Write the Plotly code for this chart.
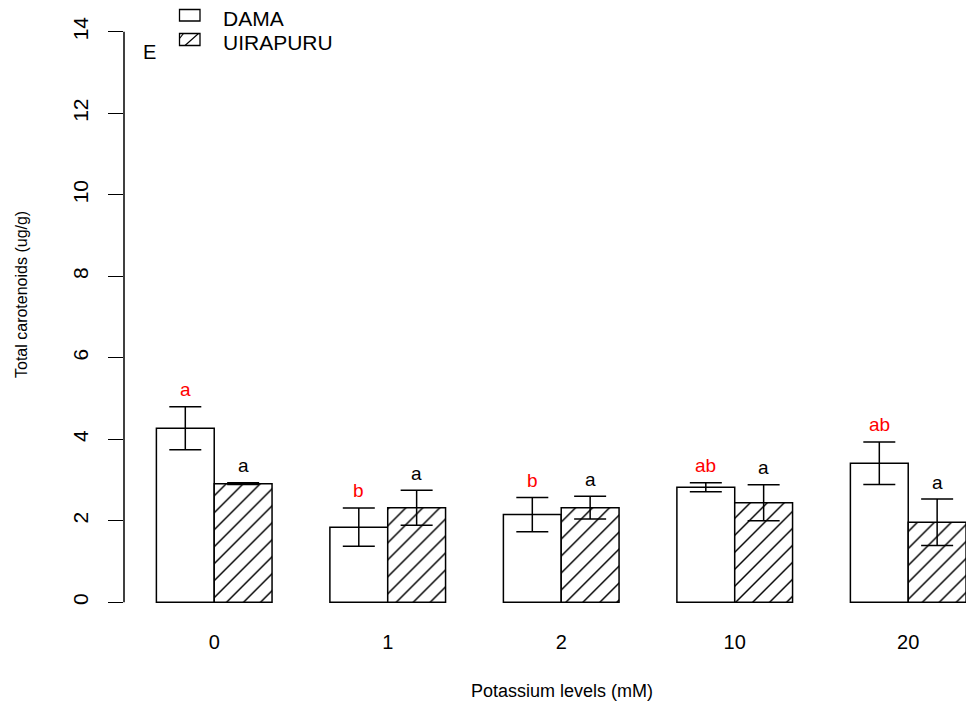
import plotly.graph_objects as go

# ---- data ----
levels = ["0", "1", "2", "10", "20"]
dama_mean = [4.27, 1.84, 2.15, 2.82, 3.41]
dama_se = [0.53, 0.47, 0.42, 0.11, 0.52]
uira_mean = [2.91, 2.32, 2.32, 2.44, 1.96]
uira_se = [0.02, 0.43, 0.28, 0.44, 0.57]
dama_letters = ["a", "b", "b", "ab", "ab"]
uira_letters = ["a", "a", "a", "a", "a"]
y_ticks = [0, 2, 4, 6, 8, 10, 12, 14]
series_names = ["DAMA", "UIRAPURU"]

FONT = "Liberation Sans, Arial, sans-serif"
W, H = 966, 708
L, R, T, B = 124, 0, 9, 83
pw, ph = W - L - R, H - T - B


def px(x):
    return (x - L) / pw


def py(y):
    return (H - B - y) / ph


fig = go.Figure()
fig.add_trace(go.Bar(
    x=levels, y=dama_mean, name=series_names[0],
    marker=dict(color="white", line=dict(color="black", width=1.5)),
    error_y=dict(type="data", array=dama_se, visible=True,
                 color="black", thickness=1.5, width=16),
    showlegend=False,
))
fig.add_trace(go.Bar(
    x=levels, y=uira_mean, name=series_names[1],
    marker=dict(color="white", line=dict(color="black", width=1.5),
                pattern=dict(shape="/", fgcolor="black", fgopacity=1,
                             bgcolor="white", size=12, solidity=0.12)),
    error_y=dict(type="data", array=uira_se, visible=True,
                 color="black", thickness=1.5, width=16),
    showlegend=False,
))

annotations = []
for i in range(len(levels)):
    annotations.append(dict(
        x=i - 1 / 6, y=dama_mean[i] + dama_se[i] + 0.42, xref="x", yref="y",
        text=dama_letters[i], showarrow=False, yanchor="middle",
        font=dict(family=FONT, size=19, color="#ff0000")))
    annotations.append(dict(
        x=i + 1 / 6, y=uira_mean[i] + uira_se[i] + 0.42, xref="x", yref="y",
        text=uira_letters[i], showarrow=False, yanchor="middle",
        font=dict(family=FONT, size=19, color="black")))

# titles
annotations.append(dict(
    x=px(562), y=py(691), xref="paper", yref="paper",
    text="Potassium levels (mM)", showarrow=False,
    xanchor="center", yanchor="middle",
    font=dict(family=FONT, size=18, color="black")))
annotations.append(dict(
    x=px(21), y=py(295), xref="paper", yref="paper",
    text="Total carotenoids (ug/g)", showarrow=False, textangle=-90,
    xanchor="center", yanchor="middle",
    font=dict(family=FONT, size=16, color="black")))
annotations.append(dict(
    x=px(141), y=py(52.5), xref="paper", yref="paper",
    text="E", showarrow=False, xanchor="left", yanchor="middle",
    font=dict(family=FONT, size=20, color="black")))
# manual legend text
annotations.append(dict(
    x=px(221), y=py(18.5), xref="paper", yref="paper",
    text=series_names[0], showarrow=False, xanchor="left", yanchor="middle",
    font=dict(family=FONT, size=21, color="black")))
annotations.append(dict(
    x=px(221), y=py(42), xref="paper", yref="paper",
    text=series_names[1], showarrow=False, xanchor="left", yanchor="middle",
    font=dict(family=FONT, size=21, color="black")))

shapes = [
    # y axis line from 0 to 14
    dict(type="line", xref="paper", yref="y", x0=0, x1=0, y0=0, y1=14,
         line=dict(color="black", width=1.5)),
    # legend boxes
    dict(type="rect", xref="paper", yref="paper",
         x0=px(179.5), x1=px(200), y0=py(21), y1=py(9.5),
         line=dict(color="black", width=1.3), fillcolor="white"),
    dict(type="rect", xref="paper", yref="paper",
         x0=px(179.5), x1=px(200), y0=py(45.5), y1=py(33.5),
         line=dict(color="black", width=1.3), fillcolor="white"),
    dict(type="line", xref="paper", yref="paper",
         x0=px(185), x1=px(198.5), y0=py(45.5), y1=py(33.5),
         line=dict(color="black", width=1.2)),
    dict(type="line", xref="paper", yref="paper",
         x0=px(179.5), x1=px(183.5), y0=py(38.5), y1=py(33.5),
         line=dict(color="black", width=1.2)),
]

fig.update_layout(
    width=W, height=H,
    margin=dict(l=L, r=R, t=T, b=B, pad=0),
    paper_bgcolor="white", plot_bgcolor="white",
    barmode="group", bargap=1 / 3, bargroupgap=0,
    font=dict(family=FONT, color="black"),
    annotations=annotations, shapes=shapes,
    showlegend=False,
)
fig.update_xaxes(
    type="category", range=[-0.52, 4.333],
    showline=False, showgrid=False, zeroline=False, ticks="",
    tickfont=dict(family=FONT, size=20, color="black"),
    ticklabelstandoff=3,
)
fig.update_yaxes(
    range=[-0.56, 14.56], tickvals=y_ticks,
    ticktext=[str(v) for v in y_ticks],
    showline=False, showgrid=False, zeroline=False,
    ticks="outside", ticklen=15, tickwidth=1.3, tickcolor="black",
    tickangle=-90, ticklabelstandoff=12,
    tickfont=dict(family=FONT, size=21, color="black"),
)

fig.write_html("out.html")
